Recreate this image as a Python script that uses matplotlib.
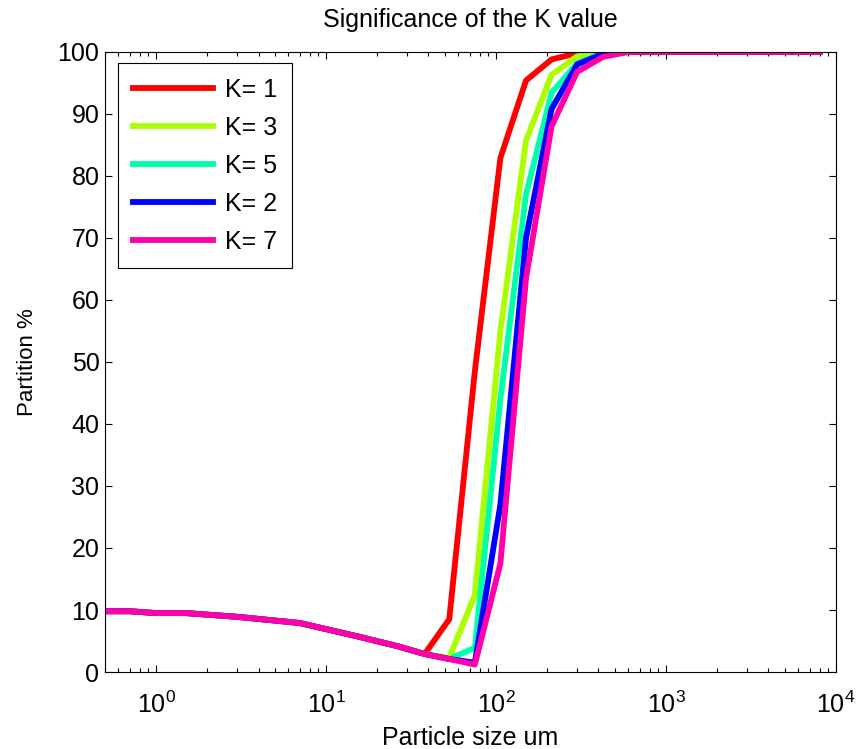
import numpy as np
import matplotlib
matplotlib.use('Agg')
import matplotlib.pyplot as plt
from matplotlib.ticker import LogLocator, NullFormatter

plt.rcParams['font.family'] = ['Liberation Sans', 'DejaVu Sans']

# particle sizes (um) and cumulative partition (%) for each K
sizes = [0.5, 0.7, 1.0, 1.5, 3.0, 7.0, 15, 26, 38, 53, 75, 106, 150, 212, 300, 425, 600, 1000, 2000, 4000, 8000]
fines = [9.8, 9.8, 9.5, 9.5, 8.9, 7.9, 5.8, 4.2, 2.9]
tail = [100, 100, 100, 100, 100]

k1 = fines + [8.5, 48.5, 82.9, 95.4, 98.8, 99.8, 100] + tail
k3 = fines + [2.3, 12.4, 55.0, 85.7, 96.3, 99.3, 100] + tail
k5 = fines + [2.1, 3.9, 44.0, 77.0, 93.4, 98.2, 99.8] + tail
k2 = fines + [2.1, 1.5, 27.0, 70.0, 90.8, 98.0, 99.7] + tail
k7 = fines + [2.1, 1.2, 17.5, 63.5, 88.0, 96.8, 99.2] + tail

labels = ['K= 1', 'K= 3', 'K= 5', 'K= 2', 'K= 7']
series = [k1, k3, k5, k2, k7]
colors = ['#ff0000', '#aaff00', '#00ffaa', '#0000ff', '#ff00aa']

fig = plt.figure(figsize=(8.56, 7.49), dpi=100)
ax = fig.add_axes([0.1227, 0.1028, 0.8539, 0.8278])

for ys, lab, c in zip(series, labels, colors):
    ax.plot(sizes, ys, color=c, linewidth=4.2, label=lab)

ax.set_xscale('log')
ax.set_xlim(0.5, 1e4)
ax.set_ylim(0, 100)
ax.set_yticks(np.arange(0, 101, 10))
ax.xaxis.set_major_locator(LogLocator(base=10, numticks=10))
ax.xaxis.set_minor_locator(LogLocator(base=10, subs=np.arange(2, 10), numticks=20))
ax.xaxis.set_minor_formatter(NullFormatter())

ax.tick_params(which='both', direction='in', top=True, right=True, labelsize=18, width=0.8)
ax.tick_params(which='major', length=5)
ax.tick_params(which='minor', length=3)
ax.tick_params(axis='x', which='major', pad=14)
ax.tick_params(axis='y', which='major', pad=4)
for s in ax.spines.values():
    s.set_linewidth(0.8)

ax.set_title('Significance of the K value', fontsize=18, pad=18)
ax.set_xlabel('Particle size um', fontsize=18, labelpad=6)
ax.set_ylabel('Partition %', fontsize=16, labelpad=14)

leg = ax.legend(loc='upper left', bbox_to_anchor=(0.018, 0.982), borderaxespad=0,
                fontsize=18, handlelength=3.2, handletextpad=0.5, labelspacing=0.56,
                borderpad=0.58, fancybox=False, framealpha=1)
leg.get_frame().set_edgecolor('black')
leg.get_frame().set_linewidth(0.8)

fig.savefig('out.png', dpi=100)
